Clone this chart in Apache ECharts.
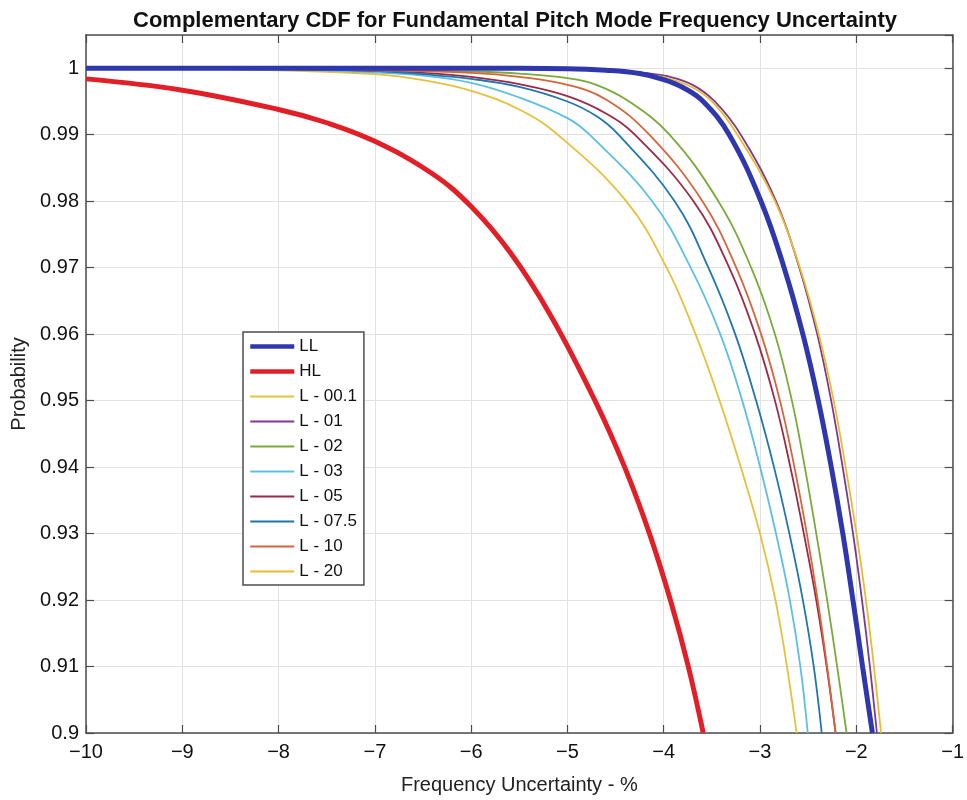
<!DOCTYPE html>
<html lang="en">
<head>
    <meta charset="UTF-8">
    <title>Complementary CDF</title>
    <script src="https://cdn.jsdelivr.net/npm/echarts@6/dist/echarts.min.js"></script>
</head>
<body style="margin:0;background:#fff;">
    <div id="chart1" style="width: 967px;height: 800px;"></div>
    <script type="text/javascript">
        var chart1 = echarts.init(document.getElementById("chart1"));

        // [frequency uncertainty %, probability]
        var seriesNames = ['LL', 'HL', 'L - 00.1', 'L - 01', 'L - 02', 'L - 03', 'L - 05', 'L - 07.5', 'L - 10', 'L - 20'];
        var seriesColors = ['#2e37ad', '#e21f26', '#e6c13c', '#7e3a8e', '#7aab3a', '#5bc0e4', '#9e2846', '#1f77b0', '#d8643a', '#e9bc30'];

        var dataLL = [[-10, 1], [-6, 1], [-5, 0.99993], [-4.6, 0.9997], [-4.25, 0.9992], [-4, 0.9983], [-3.8, 0.9971],
            [-3.59, 0.995], [-3.32, 0.99], [-2.99, 0.98], [-2.75, 0.97], [-2.555, 0.96], [-2.395, 0.95], [-2.26, 0.94],
            [-2.14, 0.93], [-2.035, 0.92], [-1.935, 0.91], [-1.833, 0.9]];
        var dataHL = [[-10, 0.9984], [-9, 0.9967], [-8, 0.9938], [-7.5, 0.9918], [-7, 0.989], [-6.41, 0.9842],
            [-6, 0.9792], [-5.59, 0.9722], [-5.17, 0.9627], [-4.714, 0.95], [-4.406, 0.94], [-4.148, 0.93],
            [-3.931, 0.92], [-3.745, 0.91], [-3.59, 0.9]];
        var dataL001 = [[-10, 1], [-9, 0.99995], [-8, 0.9997], [-7, 0.9991], [-6.5, 0.9982], [-6, 0.9966], [-5.5, 0.9938],
            [-5.1, 0.99], [-4.39, 0.98], [-3.97, 0.97], [-3.67, 0.96], [-3.42, 0.95], [-3.2, 0.94], [-3, 0.93],
            [-2.84, 0.92], [-2.72, 0.91], [-2.62, 0.9]];
        var dataL01 = [[-10, 1], [-6, 1], [-5, 0.99995], [-4.5, 0.9997], [-4.2, 0.9993], [-3.96, 0.9988], [-3.7, 0.9975],
            [-3.47, 0.995], [-3.2, 0.99], [-2.834, 0.98], [-2.592, 0.97], [-2.406, 0.96], [-2.261, 0.95], [-2.142, 0.94],
            [-2.034, 0.93], [-1.941, 0.92], [-1.859, 0.91], [-1.786, 0.9]];
        var dataL02 = [[-10, 1], [-8, 0.99995], [-7, 0.9998], [-6, 0.9995], [-5.5, 0.9992], [-5, 0.9985], [-4.7, 0.9975],
            [-4.36, 0.995], [-3.94, 0.99], [-3.433, 0.98], [-3.092, 0.97], [-2.845, 0.96], [-2.669, 0.95],
            [-2.535, 0.94], [-2.416, 0.93], [-2.303, 0.92], [-2.199, 0.91], [-2.101, 0.9]];
        var dataL03 = [[-10, 1], [-8, 0.9998], [-7, 0.9994], [-6.5, 0.9989], [-6, 0.9978], [-5.5, 0.9956], [-5, 0.9925],
            [-4.77, 0.99], [-4.12, 0.98], [-3.72, 0.97], [-3.413, 0.96], [-3.185, 0.95], [-2.999, 0.94],
            [-2.834, 0.93], [-2.69, 0.92], [-2.581, 0.91], [-2.504, 0.9]];
        var dataL05 = [[-10, 1], [-8, 0.9999], [-7, 0.9996], [-6.5, 0.9993], [-6, 0.9987], [-5.5, 0.9976], [-5, 0.9958],
            [-4.6, 0.9932], [-4.3, 0.99], [-3.691, 0.98], [-3.32, 0.97], [-3.051, 0.96], [-2.845, 0.95],
            [-2.685, 0.94], [-2.545, 0.93], [-2.416, 0.92], [-2.308, 0.91], [-2.215, 0.9]];
        var dataL075 = [[-10, 1], [-8, 0.9999], [-7, 0.9996], [-6.5, 0.9991], [-6, 0.9984], [-5.5, 0.9972], [-5, 0.995],
            [-4.7, 0.9928], [-4.47, 0.99], [-3.887, 0.98], [-3.536, 0.97], [-3.258, 0.96], [-3.041, 0.95],
            [-2.855, 0.94], [-2.695, 0.93], [-2.555, 0.92], [-2.442, 0.91], [-2.359, 0.9]];
        var dataL10 = [[-10, 1], [-8, 0.9999], [-7, 0.9997], [-6, 0.9993], [-5.5, 0.9987], [-5, 0.9975], [-4.6, 0.9953],
            [-4.15, 0.99], [-3.598, 0.98], [-3.247, 0.97], [-2.989, 0.96], [-2.793, 0.95], [-2.643, 0.94],
            [-2.514, 0.93], [-2.401, 0.92], [-2.303, 0.91], [-2.215, 0.9]];
        var dataL20 = [[-10, 1], [-6, 0.99998], [-5, 0.9999], [-4.5, 0.9995], [-4.2, 0.9991], [-3.96, 0.9985],
            [-3.7, 0.9971], [-3.48, 0.9947], [-3.235, 0.99], [-2.845, 0.98], [-2.586, 0.97], [-2.39, 0.96],
            [-2.235, 0.95], [-2.111, 0.94], [-1.998, 0.93], [-1.9, 0.92], [-1.817, 0.91], [-1.743, 0.9]];
        var allData = [dataLL, dataHL, dataL001, dataL01, dataL02, dataL03, dataL05, dataL075, dataL10, dataL20];

        var xMin = -10, xMax = -1, xStep = 1;
        var yMin = 0.9, yMax = 1.005, yStep = 0.01;

        var font = 'Liberation Sans, Arial, Helvetica, sans-serif';
        var boxColor = '#4d4d4d';

        var series = [];
        var legendData = [];
        for (var i = 0; i < seriesNames.length; i++) {
            var thick = i < 2;
            series.push({
                name: seriesNames[i],
                type: 'line',
                data: allData[i],
                showSymbol: false,
                symbol: 'none',
                smooth: 0.4,
                lineStyle: { color: seriesColors[i], width: thick ? 5 : 1.8 },
                itemStyle: { color: seriesColors[i] },
                z: thick ? 3 : 2
            });
            legendData.push({
                name: seriesNames[i],
                itemStyle: { opacity: 0 },
                lineStyle: { width: thick ? 4.5 : 2, opacity: 1 }
            });
        }

        function minusFmt(v) {
            return v < 0 ? '\u2212' + Math.abs(v) : String(v);
        }

        var option = {
            animation: false,
            backgroundColor: '#fff',
            title: {
                text: 'Complementary CDF for Fundamental Pitch Mode Frequency Uncertainty',
                left: 510,
                top: 5,
                textAlign: 'center',
                textStyle: { fontFamily: font, fontWeight: 'bold', fontSize: 22, color: '#111' }
            },
            legend: {
                orient: 'vertical',
                left: 243,
                top: 332,
                data: legendData,
                backgroundColor: '#fff',
                borderColor: boxColor,
                borderWidth: 1.5,
                borderRadius: 0,
                padding: [6, 7, 5, 5],
                itemWidth: 44,
                itemHeight: 16,
                itemGap: 8,
                itemStyle: { opacity: 0 },
                textStyle: { fontFamily: font, fontSize: 17, color: '#111' }
            },
            grid: {
                left: 86,
                right: 10,
                top: 35,
                bottom: 66,
                containLabel: false
            },
            xAxis: [{
                type: 'value',
                min: xMin,
                max: xMax,
                interval: xStep,
                position: 'bottom',
                name: 'Frequency Uncertainty - %',
                nameLocation: 'middle',
                nameGap: 42,
                nameTextStyle: { fontFamily: font, fontSize: 20, color: '#222' },
                axisLine: { show: true, lineStyle: { color: boxColor, width: 1.5 } },
                axisTick: { show: true, inside: true, length: 8, lineStyle: { color: boxColor, width: 1.2 } },
                axisLabel: { fontFamily: font, fontSize: 20, color: '#111', margin: 9, formatter: minusFmt },
                splitLine: { show: true, lineStyle: { color: '#e2e2e2', width: 1 } }
            }, {
                type: 'value',
                min: xMin,
                max: xMax,
                interval: xStep,
                position: 'top',
                axisLine: { show: true, lineStyle: { color: boxColor, width: 1.5 } },
                axisTick: { show: true, inside: true, length: 8, lineStyle: { color: boxColor, width: 1.2 } },
                axisLabel: { show: false },
                splitLine: { show: false }
            }],
            yAxis: [{
                type: 'value',
                min: yMin,
                max: yMax,
                interval: yStep,
                position: 'left',
                name: 'Probability',
                nameLocation: 'middle',
                nameGap: 57,
                nameTextStyle: { fontFamily: font, fontSize: 20, color: '#222' },
                axisLine: { show: true, lineStyle: { color: boxColor, width: 1.5 } },
                axisTick: { show: true, inside: true, length: 8, lineStyle: { color: boxColor, width: 1.2 } },
                axisLabel: { fontFamily: font, fontSize: 20, color: '#111', margin: 7, showMaxLabel: false },
                splitLine: { show: true, lineStyle: { color: '#e2e2e2', width: 1 } }
            }, {
                type: 'value',
                min: yMin,
                max: yMax,
                interval: yStep,
                position: 'right',
                axisLine: { show: true, lineStyle: { color: boxColor, width: 1.5 } },
                axisTick: { show: true, inside: true, length: 8, lineStyle: { color: boxColor, width: 1.2 } },
                axisLabel: { show: false },
                splitLine: { show: false }
            }],
            series: series
        };

        chart1.setOption(option);
    </script>
</body>
</html>
